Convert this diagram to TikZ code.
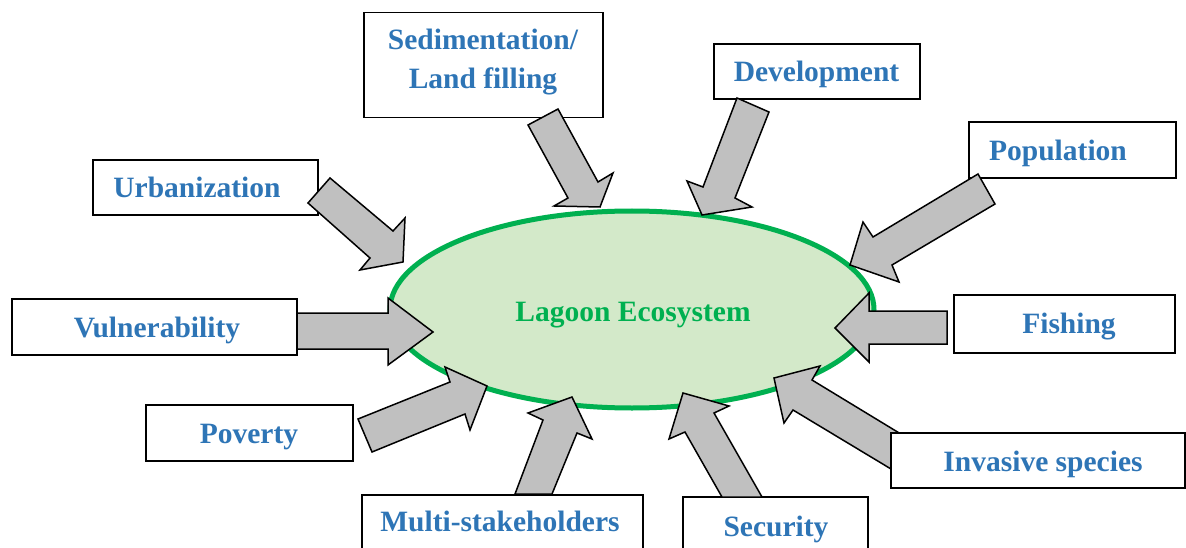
\documentclass[tikz,border=0pt]{standalone}
\usepackage{fontspec}
\setmainfont{Liberation Serif}
\usetikzlibrary{shapes.geometric}
\definecolor{txtblue}{HTML}{2E75B6}
\definecolor{lgreen}{HTML}{00B050}
\definecolor{lfill}{HTML}{D3E9C9}
\definecolor{arrgray}{HTML}{C0C0C0}
\begin{document}
\begin{tikzpicture}[x=1pt,y=-1pt,
  box/.style={draw=black,line width=1.6pt,fill=white,rectangle,inner sep=0pt,outer sep=0pt},
  lbl/.style={text=txtblue,font=\fontsize{29.5}{39}\selectfont\bfseries,anchor=base,inner sep=0pt},
  barrow/.style={draw=black,fill=arrgray,line width=1.5pt,line join=miter}]
\useasboundingbox (0,0) rectangle (1186,548);
\fill[white] (0,0) rectangle (1186,548);
\clip (0,0) rectangle (1186,548);

% central ellipse
\node[ellipse,draw=lgreen,fill=lfill,line width=5pt,minimum width=484pt,minimum height=197pt,inner sep=0pt,outer sep=0pt] (eco) at (632,309.5) {};
\node[text=lgreen,font=\fontsize{29.5}{39}\selectfont\bfseries,anchor=base,inner sep=0pt] (ecot) at (633,321.7) {Lagoon Ecosystem};

% boxes (drawn below arrows)
\node[box,minimum width=239pt,minimum height=105pt] (bsed) at (483.5,65) {};
\node[box,minimum width=206pt,minimum height=55pt] (bdev) at (817,71.5) {};
\node[box,minimum width=207pt,minimum height=56pt] (bpop) at (1072.5,150) {};
\node[box,minimum width=225pt,minimum height=55pt] (burb) at (205.5,187.5) {};
\node[box,minimum width=285pt,minimum height=56pt] (bvul) at (154.5,327) {};
\node[box,minimum width=221pt,minimum height=58pt] (bfis) at (1064.5,324) {};
\node[box,minimum width=207pt,minimum height=56pt] (bpov) at (249.5,433) {};
\node[box,minimum width=281pt,minimum height=70pt] (bmul) at (502.5,530) {};
\node[box,minimum width=185pt,minimum height=66pt] (bsec) at (775.5,530) {};

% block arrows
% Sedimentation
\draw[barrow] (528,125) -- (558,109) -- (598,182) -- (613,173) -- (600,207) -- (554,206) -- (568,198) -- cycle;
% Development
\draw[barrow] (737,98) -- (769,112) -- (735,198) -- (752,207) -- (702,215) -- (687,181) -- (703,187) -- cycle;
% Population
\draw[barrow] (978,174) -- (995,204) -- (892,265) -- (899,282) -- (850,265) -- (863,222) -- (873,237) -- cycle;
% Urbanization
\draw[barrow] (330,178) -- (393,231) -- (405,218) -- (403,262) -- (360,270) -- (370,258) -- (308,203) -- cycle;
% Vulnerability
\draw[barrow] (297,313) -- (388,313) -- (388,298) -- (433,332) -- (388,365) -- (388,349) -- (297,349) -- cycle;
% Fishing
\draw[barrow] (947,311) -- (869,311) -- (869,293) -- (835,328) -- (869,362) -- (869,344) -- (947,344) -- cycle;
% Poverty
\draw[barrow] (358,419) -- (450,382) -- (445,367) -- (487,386) -- (470,430) -- (465,414) -- (372,452) -- cycle;
% Invasive species
\draw[barrow] (914,442) -- (812,380) -- (820,366) -- (774,378) -- (784,423) -- (793,410) -- (896,472) -- cycle;
% Multi-stakeholders
\draw[barrow] (515,494) -- (543,420) -- (528,413) -- (572,397) -- (592,439) -- (577,433) -- (552,494) -- cycle;
% Security
\draw[barrow] (722,497) -- (685,432) -- (669,439) -- (683,393) -- (729,406) -- (714,413) -- (762,497) -- cycle;

% box drawn above its arrow
\node[box,minimum width=294pt,minimum height=55pt] (binv) at (1038,460.5) {};

% labels
\node[lbl] (tsed1) at (483,50) {Sedimentation/};
\node[lbl] (tsed2) at (483,89) {Land filling};
\node[lbl] (tdev) at (816.5,82) {Development};
\node[lbl] (tpop) at (1058,161) {Population};
\node[lbl] (turb) at (197,198) {Urbanization};
\node[lbl] (tvul) at (157,337) {Vulnerability};
\node[lbl] (tfis) at (1069,333) {Fishing};
\node[lbl] (tpov) at (249,443) {Poverty};
\node[lbl] (tinv) at (1043,471) {Invasive species};
\node[lbl] (tmul) at (500,531) {Multi-stakeholders};
\node[lbl] (tsec) at (776,536) {Security};
\end{tikzpicture}
\end{document}
